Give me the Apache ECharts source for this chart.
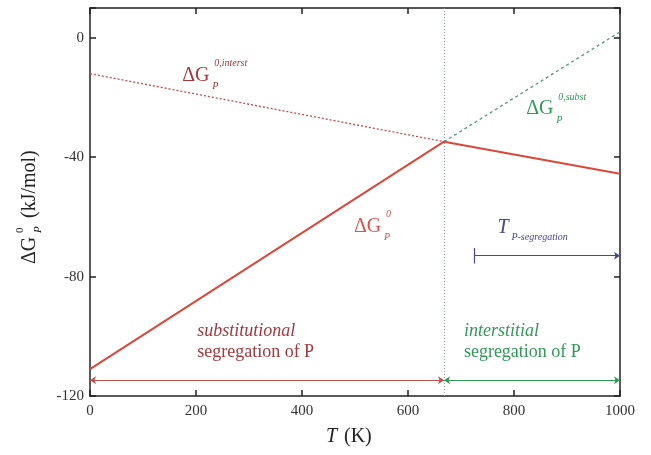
<!DOCTYPE html>
<html>
<head>
<meta charset="utf-8">
<script src="https://cdn.jsdelivr.net/npm/echarts@6/dist/echarts.min.js"></script>
<style>
  html, body { margin: 0; padding: 0; background: #fff; }
  #chart { width: 651px; height: 455px; }
</style>
</head>
<body>
<div id="chart"></div>
<script>
// data
const tCross = 668
const totalT = [0, 668, 1000]
const totalG = [-111, -34.8, -45.5]
const interstT = [0, 668]
const interstG = [-12, -34.8]
const substT = [668, 1000]
const substG = [-34.8, 2]
const arrowY = -114.7
const segStartT = 725
const segY = -73

const xTicks = [0, 200, 400, 600, 800, 1000]
const yTicks = [-120, -80, -40, 0]

const serif = 'Liberation Serif'
const darkRed = '#a8363a'
const lineRed = '#d8493b'
const green = '#2f9a55'
const blue = '#45459a'

const pairs = (xs, ys) => xs.map((x, i) => [x, ys[i]])

const chart = echarts.init(document.getElementById('chart'))

const axisLineStyle = { color: '#222', width: 1.5 }

chart.setOption({
  animation: false,
  grid: { left: 90, right: 31, top: 8, bottom: 59 },
  xAxis: [
    {
      type: 'value', min: 0, max: 1000, interval: 200,
      axisLine: { onZero: false, lineStyle: axisLineStyle },
      axisTick: { inside: true, length: 6, lineStyle: axisLineStyle },
      axisLabel: {
        fontFamily: serif, fontSize: 15, color: '#333', margin: 8,
        formatter: v => (xTicks.includes(v) ? String(v) : '')
      },
      splitLine: { show: false }
    },
    {
      type: 'value', position: 'top', min: 0, max: 1000, interval: 200,
      axisLine: { onZero: false, lineStyle: axisLineStyle },
      axisTick: { inside: true, length: 6, lineStyle: axisLineStyle },
      axisLabel: { show: false },
      splitLine: { show: false }
    }
  ],
  yAxis: [
    {
      type: 'value', min: -120, max: 10, interval: 40,
      axisLine: { onZero: false, lineStyle: axisLineStyle },
      axisTick: { inside: true, length: 6, lineStyle: axisLineStyle },
      axisLabel: {
        fontFamily: serif, fontSize: 15, color: '#333', margin: 6,
        formatter: v => (yTicks.includes(v) ? String(v) : '')
      },
      splitLine: { show: false }
    },
    {
      type: 'value', position: 'right', min: -120, max: 10, interval: 40,
      axisLine: { onZero: false, lineStyle: axisLineStyle },
      axisTick: { inside: true, length: 6, lineStyle: axisLineStyle },
      axisLabel: { show: false },
      splitLine: { show: false }
    }
  ],
  series: [
    {
      name: 'interst', type: 'line', symbol: 'none',
      data: pairs(interstT, interstG),
      lineStyle: { color: '#c24a4a', width: 1.3, type: [2, 2] }
    },
    {
      name: 'subst', type: 'line', symbol: 'none',
      data: pairs(substT, substG),
      lineStyle: { color: '#4f9a7a', width: 1.3, type: [3, 3] }
    },
    {
      name: 'total', type: 'line', symbol: 'none',
      data: pairs(totalT, totalG),
      lineStyle: { color: lineRed, width: 2 },
      z: 3,
      markLine: {
        silent: true, symbol: 'none', label: { show: false },
        lineStyle: { color: '#8a9aa0', width: 1, type: [1, 2] },
        data: [{ xAxis: tCross }]
      }
    },
    {
      name: 'arrows', type: 'line', data: [],
      markLine: {
        silent: true, symbol: ['arrow', 'arrow'], symbolSize: 6,
        label: { show: false },
        data: [
          [{ coord: [0, arrowY], lineStyle: { color: '#c0504d', width: 1, type: 'solid' } }, { coord: [tCross, arrowY] }],
          [{ coord: [tCross, arrowY], lineStyle: { color: green, width: 1, type: 'solid' } }, { coord: [1000, arrowY] }]
        ]
      }
    },
    {
      name: 'segArrow', type: 'line', data: [],
      markLine: {
        silent: true, symbol: ['none', 'arrow'], symbolSize: 6,
        label: { show: false },
        lineStyle: { color: blue, width: 1.2, type: 'solid' },
        data: [
          [{ coord: [segStartT, segY] }, { coord: [1000, segY] }]
        ]
      }
    },
    {
      name: 'segBar', type: 'line', data: [],
      markLine: {
        silent: true, symbol: 'none',
        label: { show: false },
        lineStyle: { color: blue, width: 1.2, type: 'solid' },
        data: [
          [{ coord: [segStartT, segY + 2.6] }, { coord: [segStartT, segY - 2.6] }]
        ]
      }
    }
  ]
})

// text labels anchored in data space, parts offset in px
const txt = (x, y, text, font, fill, extra) =>
  Object.assign({ type: 'text', x, y, style: { text, font, fill, textVerticalAlign: 'middle' } }, extra || {})

const at = (T, G) => chart.convertToPixel({ xAxisIndex: 0, yAxisIndex: 0 }, [T, G])

const deltaG = (T, G, sup, color) => {
  const [px, py] = at(T, G)
  return {
    type: 'group', children: [
      txt(px, py, 'ΔG', `20px "${serif}"`, color),
      txt(px + 30, py + 11, 'P', `italic 10px "${serif}"`, color),
      txt(px + 32, py - 12, sup, `italic 10px "${serif}"`, color)
    ]
  }
}

const [tx, ty] = at(780, -63.5)
const [sx, sy] = at(272, -101.5)
const [ix, iy] = at(713, -101.5)

chart.setOption({
  graphic: [
    deltaG(174, -12.7, '0,interst', darkRed),
    deltaG(823, -23.8, '0,subst', green),
    deltaG(498, -63.2, '0', '#e0504a'),
    {
      type: 'group', children: [
        txt(tx - 6, ty, 'T', `italic 20px "${serif}"`, blue),
        txt(tx + 8, ty + 10, 'P-segregation', `italic 10px "${serif}"`, blue)
      ]
    },
    txt(sx - 37, sy - 10, 'substitutional', `italic 18px "${serif}"`, darkRed),
    txt(sx - 37, sy + 11, 'segregation of P', `18px "${serif}"`, darkRed),
    txt(ix - 4, iy - 10, 'interstitial', `italic 18px "${serif}"`, green),
    txt(ix - 4, iy + 11, 'segregation of P', `18px "${serif}"`, green),
    {
      type: 'group', x: 326, y: 437, children: [
        txt(0, 0, 'T', `italic 20px "${serif}"`, '#222'),
        txt(18, 0, '(K)', `20px "${serif}"`, '#222')
      ]
    },
    {
      type: 'group', x: 30, y: 264, rotation: Math.PI / 2, children: [
        txt(0, 0, 'ΔG', `20px "${serif}"`, '#222'),
        txt(31, 8, 'P', `italic 11px "${serif}"`, '#222'),
        txt(31, -10, '0', `11px "${serif}"`, '#222'),
        txt(46, 0, '(kJ/mol)', `20px "${serif}"`, '#222')
      ]
    }
  ]
})
</script>
</body>
</html>
